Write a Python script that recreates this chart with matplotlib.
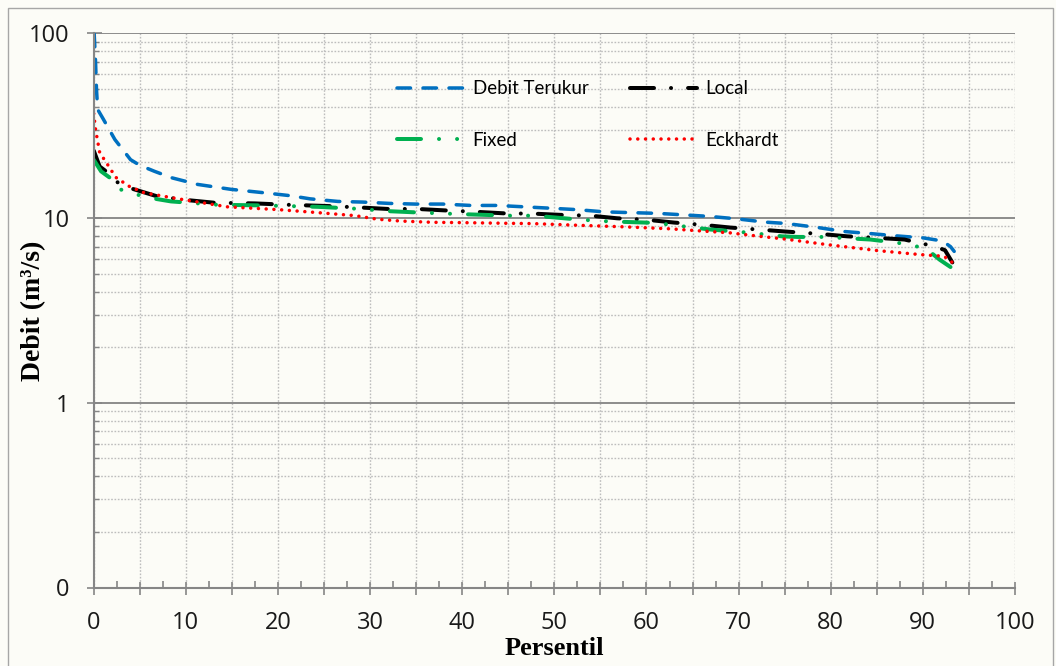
import matplotlib
matplotlib.use("Agg")
import matplotlib.pyplot as plt
from matplotlib.ticker import MultipleLocator, LogLocator, FixedLocator, FuncFormatter, NullFormatter
from matplotlib.patches import Rectangle

plt.rcParams['lines.scale_dashes'] = False

# flow duration curves (percentile vs discharge, m3/s)
x_terukur = [0.05, 0.2, 0.3, 0.43, 1.0, 2.3, 4.0, 5.0, 6.6, 8.5, 11.3, 14.9, 18.5, 21.4,
             23.5, 26.5, 29.2, 32.1, 34.9, 37.9, 40.9, 43.8, 46.7, 49.6, 52.5, 55.4, 58.2,
             61.2, 64.1, 66.9, 69.8, 72.9, 75.1, 78.5, 81.5, 84.3, 87.2, 90.1, 91.5, 92.4,
             93.0, 93.4]
q_terukur = [100, 70, 50, 38.7, 34.6, 26.6, 20.7, 19.3, 17.9, 16.5, 15.2, 14.3, 13.7, 13.2,
             12.7, 12.3, 12.2, 12.0, 11.9, 11.9, 11.7, 11.7, 11.5, 11.3, 11.1, 10.8, 10.7,
             10.6, 10.4, 10.2, 9.9, 9.5, 9.35, 8.9, 8.45, 8.24, 8.0, 7.8, 7.6, 7.35,
             7.0, 6.6]

x_local = [0.0, 0.65, 1.8, 2.6, 4.0, 6.9, 10.2, 13.1, 17.5, 21.0, 25.7, 29.0, 31.9, 35.1,
           38.1, 41.6, 44.6, 47.8, 50.7, 53.9, 56.8, 60.1, 63.0, 66.3, 69.1, 72.8, 75.1,
           78.9, 81.8, 85.0, 88.0, 91.2, 92.4, 93.2]
q_local = [23.2, 19.0, 17.2, 15.6, 14.5, 13.1, 12.5, 12.1, 12.0, 11.8, 11.6, 11.4, 11.2, 11.2,
           11.0, 10.8, 10.6, 10.56, 10.4, 10.3, 9.97, 9.78, 9.45, 9.17, 8.88, 8.62, 8.45,
           8.2, 7.96, 7.81, 7.65, 7.04, 6.7, 5.75]

x_fixed = [0.0, 0.8, 1.7, 2.5, 4.0, 5.9, 8.4, 13.4, 18.5, 21.4, 24.3, 29.0, 31.9, 35.5,
           39.8, 45.2, 47.8, 53.0, 55.9, 61.0, 63.3, 67.0, 69.5, 71.3, 74.7, 76.4, 79.3,
           84.3, 87.2, 88.8, 90.4, 91.8, 92.6, 93.0]
q_fixed = [20.7, 17.9, 16.6, 14.5, 13.7, 12.9, 12.3, 11.8, 11.7, 11.6, 11.5, 11.2, 10.9, 10.7,
           10.5, 10.3, 10.3, 9.78, 9.59, 9.41, 9.1, 8.66, 8.47, 8.31, 7.96, 7.9, 7.9,
           7.65, 7.35, 7.13, 6.8, 5.96, 5.6, 5.43]

x_eckhardt = [0.0, 0.2, 0.65, 1.5, 2.4, 3.9, 5.5, 8.8, 14.5, 20.1, 24.3, 28.4, 30.8, 33.3,
              36.8, 40.2, 44.6, 47.7, 52.5, 57.6, 62.6, 65.2, 69.1, 72.3, 74.9, 79.6, 85.0,
              89.7, 92.3, 93.2]
q_eckhardt = [36.8, 30.2, 22.6, 19.5, 16.6, 14.8, 13.7, 12.8, 11.5, 11.1, 10.7, 10.3, 9.85, 9.63,
              9.48, 9.44, 9.37, 9.33, 9.14, 8.96, 8.74, 8.56, 8.31, 7.96, 7.71, 7.18, 6.67,
              6.34, 6.21, 5.75]

y_ticks = [0.1, 1, 10, 100]
y_tick_labels = ['0', '1', '10', '100']

PT = 72 / 100  # points per pixel at dpi 100


def dashes(pattern_px, lw_px):
    # round caps grow every "on" segment by one line width, so take it back
    seq = []
    for i, v in enumerate(pattern_px):
        if i % 2 == 0:
            seq.append(max(v - lw_px, 0.05) * PT)
        else:
            seq.append((v + lw_px) * PT)
    return (0, seq)


fig = plt.figure(figsize=(10.56, 6.66), dpi=100, facecolor='#fcfcf7')
ax = fig.add_axes([93.7 / 1056, 1 - 587.5 / 666, 921.3 / 1056, 554.2 / 666])
ax.set_facecolor('#fcfcf7')

ax.plot(x_terukur, q_terukur, color='#0070c0', lw=3.5 * PT, solid_capstyle='round',
        dash_capstyle='round', ls=dashes([17, 9], 3.5), label='Debit Terukur')
ax.plot(x_local, q_local, color='black', lw=4 * PT, dash_capstyle='round',
        ls=dashes([28, 13, 2.5, 13], 4), label='Local')
ax.plot(x_fixed, q_fixed, color='#00b050', lw=4 * PT, dash_capstyle='round',
        ls=dashes([28, 14, 2.5, 14, 2.5, 14], 4), label='Fixed')
ax.plot(x_eckhardt, q_eckhardt, color='red', lw=3.5 * PT, dash_capstyle='round',
        ls=dashes([3.5, 4.2], 3.5), label='Eckhardt')

ax.set_yscale('log')
ax.set_ylim(0.1, 100)
ax.set_xlim(0, 100)

ax.yaxis.set_major_locator(FixedLocator(y_ticks))
ax.yaxis.set_major_formatter(FuncFormatter(lambda v, p: y_tick_labels[y_ticks.index(v)] if v in y_ticks else ''))
ax.yaxis.set_minor_locator(LogLocator(base=10, subs=range(2, 10)))
ax.yaxis.set_minor_formatter(NullFormatter())
ax.xaxis.set_major_locator(MultipleLocator(5))
ax.xaxis.set_major_formatter(FuncFormatter(lambda v, p: '%d' % v if round(v) % 10 == 0 else ''))
ax.xaxis.set_minor_locator(MultipleLocator(2.5))

grey = '#868686'
ax.grid(True, which='major', axis='y', color='#8c8c8c', lw=1.4, ls='-')
ax.grid(True, which='minor', axis='y', color='#bdbdbd', lw=1.0, ls=(0, (1.2, 1.2)))
ax.grid(True, which='major', axis='x', color='#bdbdbd', lw=1.0, ls=(0, (1.2, 1.2)))
ax.set_axisbelow(True)

for side in ['top', 'right']:
    ax.spines[side].set_visible(False)
for side in ['left', 'bottom']:
    ax.spines[side].set_color(grey)
    ax.spines[side].set_linewidth(1.5)

ax.tick_params(axis='x', which='major', direction='inout', length=13 * PT, width=1.2,
               color=grey, pad=12, labelsize=17, labelcolor='#1a1a1a')
ax.tick_params(axis='x', which='minor', direction='in', length=7 * PT, width=1.2, color=grey)
ax.tick_params(axis='y', which='major', direction='inout', length=15 * PT, width=1.2,
               color=grey, pad=12, labelsize=17, labelcolor='#1a1a1a')
ax.tick_params(axis='y', which='minor', direction='in', length=5 * PT, width=1.0, color=grey)
for lab in ax.get_xticklabels() + ax.get_yticklabels():
    lab.set_fontfamily('Open Sans')

ax.set_xlabel('Persentil', fontfamily='Liberation Serif', fontweight='bold', fontsize=19)
ax.set_ylabel('Debit (m³/s)', fontfamily='Liberation Serif', fontweight='bold', fontsize=20)
ax.xaxis.set_label_coords(0.5, -0.09)
ax.yaxis.set_label_coords(-0.052, 0.5)

h, l = ax.get_legend_handles_labels()
order = [0, 2, 1, 3]
leg = ax.legend([h[i] for i in order], [l[i] for i in order], ncol=2, loc='upper left',
                bbox_to_anchor=(0.329, 0.9155), frameon=False, borderpad=0, borderaxespad=0,
                handlelength=3.6, handletextpad=0.45, columnspacing=2.2, labelspacing=1.86,
                prop={'family': 'Lato', 'size': 13.5})

# outer frame of the chart area
fig.patches.append(Rectangle((8 / 1056, -0.1), 1045 / 1056, 1.1 - 8 / 666, transform=fig.transFigure,
                             fill=False, edgecolor='#a6a6a6', lw=1.0))

fig.savefig('out.png', dpi=100, facecolor=fig.get_facecolor())
